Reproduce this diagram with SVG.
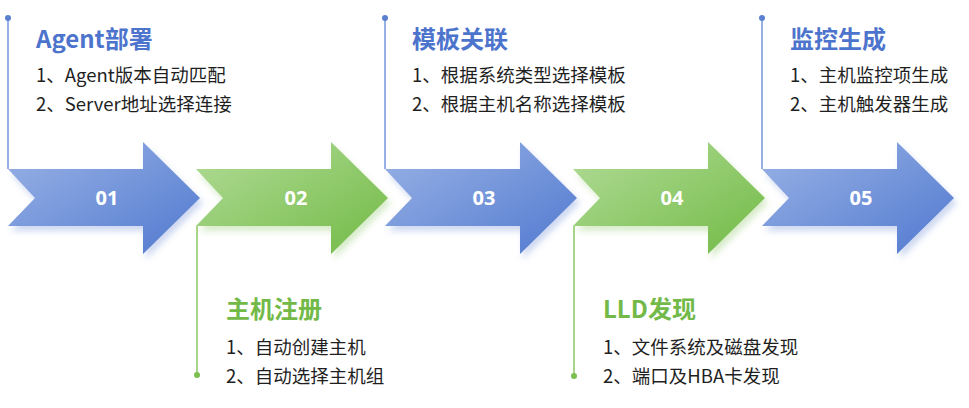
<svg xmlns="http://www.w3.org/2000/svg" width="969" height="408" viewBox="0 0 969 408">
<defs>
<linearGradient id="gb" x1="0" y1="0" x2="1" y2="1">
<stop offset="0" stop-color="#9ab3e6"/><stop offset="1" stop-color="#5179cf"/>
</linearGradient>
<linearGradient id="gg" x1="0" y1="0" x2="1" y2="1">
<stop offset="0" stop-color="#b2dc98"/><stop offset="1" stop-color="#72ba45"/>
</linearGradient>
<filter id="sb" x="-10%" y="-10%" width="125%" height="135%">
<feDropShadow dx="3" dy="5" stdDeviation="3" flood-color="#5b7fd0" flood-opacity="0.3"/>
</filter>
<filter id="sg" x="-10%" y="-10%" width="125%" height="135%">
<feDropShadow dx="3" dy="5" stdDeviation="3" flood-color="#7bbf4e" flood-opacity="0.3"/>
</filter>
<path id="arr" d="M0,0 L135,0 L135,-27 L192,29 L135,85 L135,57 L0,57 L27,29 Z"/>
</defs>
<style>
.num{font-family:"Noto Sans","Noto Sans CJK SC",sans-serif;font-weight:bold;font-size:20px;fill:#fff;text-anchor:middle}
.tb{font-family:"Noto Sans CJK SC",sans-serif;font-weight:bold;font-size:24px;fill:#4d74cc}
.tg{font-family:"Noto Sans CJK SC",sans-serif;font-weight:bold;font-size:24px;fill:#72b948}
.it{font-family:"Noto Sans CJK SC",sans-serif;font-size:18.5px;fill:#1f1f1f}
.lb{stroke:#7396dc;stroke-width:1.5;fill:none}
.lg{stroke:#8cc765;stroke-width:1.5;fill:none}
</style>
<g id="connectors">
<line class="lb" x1="8" y1="18" x2="8" y2="169"/><circle cx="8" cy="18" r="3" fill="#5b80d0"/>
<line class="lb" x1="385" y1="18" x2="385" y2="169"/><circle cx="385" cy="18" r="3" fill="#5b80d0"/>
<line class="lb" x1="762" y1="18" x2="762" y2="169"/><circle cx="762" cy="18" r="3" fill="#5b80d0"/>
<line class="lg" x1="197" y1="226" x2="197" y2="375"/><circle cx="197" cy="375" r="3" fill="#7bbf4e"/>
<line class="lg" x1="574" y1="226" x2="574" y2="376"/><circle cx="574" cy="376" r="3" fill="#7bbf4e"/>
</g>
<g id="step1">
<use href="#arr" transform="translate(8,169)" fill="url(#gb)" filter="url(#sb)"/>
<text class="num" x="107" y="205">01</text>
<text class="tb" x="36" y="48">Agent部署</text>
<text class="it" x="36" y="82">1、Agent版本自动匹配</text>
<text class="it" x="36" y="111">2、Server地址选择连接</text>
</g>
<g id="step2">
<use href="#arr" transform="translate(196,169)" fill="url(#gg)" filter="url(#sg)"/>
<text class="num" x="296" y="205">02</text>
<text class="tg" x="226" y="318">主机注册</text>
<text class="it" x="226" y="354">1、自动创建主机</text>
<text class="it" x="226" y="383">2、自动选择主机组</text>
</g>
<g id="step3">
<use href="#arr" transform="translate(385,169)" fill="url(#gb)" filter="url(#sb)"/>
<text class="num" x="484" y="205">03</text>
<text class="tb" x="412" y="48">模板关联</text>
<text class="it" x="412" y="82">1、根据系统类型选择模板</text>
<text class="it" x="412" y="111">2、根据主机名称选择模板</text>
</g>
<g id="step4">
<use href="#arr" transform="translate(573,169)" fill="url(#gg)" filter="url(#sg)"/>
<text class="num" x="672" y="205">04</text>
<text class="tg" x="603" y="318">LLD发现</text>
<text class="it" x="603" y="354">1、文件系统及磁盘发现</text>
<text class="it" x="603" y="383">2、端口及HBA卡发现</text>
</g>
<g id="step5">
<use href="#arr" transform="translate(762,169)" fill="url(#gb)" filter="url(#sb)"/>
<text class="num" x="861" y="205">05</text>
<text class="tb" x="790" y="48">监控生成</text>
<text class="it" x="790" y="82">1、主机监控项生成</text>
<text class="it" x="790" y="111">2、主机触发器生成</text>
</g>
</svg>
